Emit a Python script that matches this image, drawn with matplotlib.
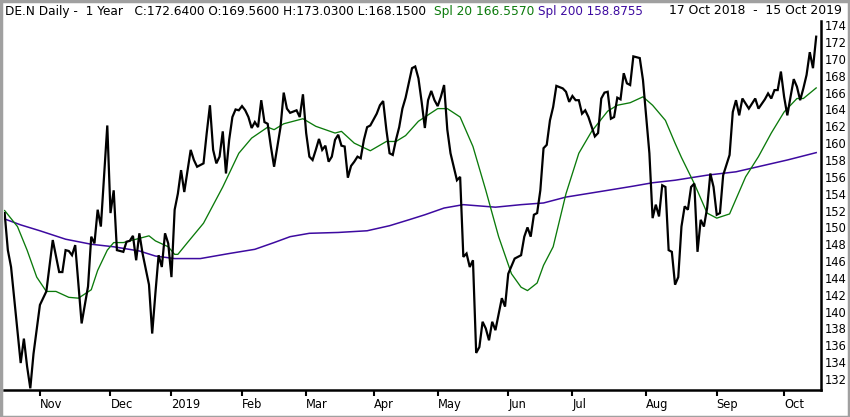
import matplotlib
matplotlib.use("Agg")
import matplotlib.pyplot as plt
import numpy as np
import pandas as pd
from matplotlib.patches import Rectangle

# ---------------- data ----------------
close_dates = [
    "2018-10-17", "2018-10-18", "2018-10-19", "2018-10-24", "2018-10-25", "2018-10-26", "2018-10-29", "2018-10-30",
    "2018-11-01", "2018-11-05", "2018-11-07", "2018-11-09", "2018-11-12", "2018-11-13", "2018-11-14", "2018-11-15",
    "2018-11-16", "2018-11-20", "2018-11-22", "2018-11-23", "2018-11-26", "2018-11-27", "2018-11-28", "2018-11-30",
    "2018-12-03", "2018-12-04", "2018-12-05", "2018-12-07", "2018-12-10", "2018-12-11", "2018-12-12", "2018-12-13",
    "2018-12-14", "2018-12-17", "2018-12-19", "2018-12-20", "2018-12-21", "2018-12-24", "2018-12-27", "2018-12-28",
    "2018-12-31", "2019-01-02", "2019-01-03", "2019-01-04", "2019-01-07", "2019-01-08", "2019-01-10", "2019-01-11",
    "2019-01-14", "2019-01-16", "2019-01-17", "2019-01-18", "2019-01-21", "2019-01-22", "2019-01-23", "2019-01-24",
    "2019-01-25", "2019-01-28", "2019-01-29", "2019-01-30", "2019-01-31", "2019-02-01", "2019-02-04", "2019-02-05",
    "2019-02-06", "2019-02-07", "2019-02-08", "2019-02-11", "2019-02-12", "2019-02-13", "2019-02-14", "2019-02-15",
    "2019-02-19", "2019-02-20", "2019-02-21", "2019-02-22", "2019-02-26", "2019-02-27", "2019-02-28", "2019-03-01",
    "2019-03-04", "2019-03-05", "2019-03-06", "2019-03-07", "2019-03-08", "2019-03-11", "2019-03-12", "2019-03-13",
    "2019-03-14", "2019-03-15", "2019-03-18", "2019-03-19", "2019-03-20", "2019-03-21", "2019-03-22", "2019-03-25",
    "2019-03-26", "2019-03-27", "2019-03-28", "2019-03-29", "2019-04-02", "2019-04-03", "2019-04-04", "2019-04-05",
    "2019-04-08", "2019-04-09", "2019-04-10", "2019-04-11", "2019-04-12", "2019-04-15", "2019-04-17", "2019-04-18",
    "2019-04-23", "2019-04-24", "2019-04-25", "2019-04-26", "2019-04-29", "2019-04-30", "2019-05-02", "2019-05-03",
    "2019-05-06", "2019-05-07", "2019-05-08", "2019-05-09", "2019-05-10", "2019-05-13", "2019-05-14", "2019-05-15",
    "2019-05-16", "2019-05-17", "2019-05-20", "2019-05-21", "2019-05-22", "2019-05-23", "2019-05-24", "2019-05-27",
    "2019-05-28", "2019-05-30", "2019-05-31", "2019-06-03", "2019-06-05", "2019-06-07", "2019-06-10", "2019-06-11",
    "2019-06-12", "2019-06-13", "2019-06-14", "2019-06-17", "2019-06-18", "2019-06-19", "2019-06-20", "2019-06-21",
    "2019-06-24", "2019-06-26", "2019-06-27", "2019-06-28", "2019-07-01", "2019-07-02", "2019-07-03", "2019-07-04",
    "2019-07-05", "2019-07-08", "2019-07-10", "2019-07-11", "2019-07-12", "2019-07-15", "2019-07-16", "2019-07-17",
    "2019-07-18", "2019-07-19", "2019-07-22", "2019-07-23", "2019-07-24", "2019-07-25", "2019-07-26", "2019-07-30",
    "2019-07-31", "2019-08-01", "2019-08-02", "2019-08-05", "2019-08-06", "2019-08-07", "2019-08-08", "2019-08-09",
    "2019-08-12", "2019-08-13", "2019-08-14", "2019-08-15", "2019-08-16", "2019-08-19", "2019-08-20", "2019-08-21",
    "2019-08-22", "2019-08-23", "2019-08-26", "2019-08-27", "2019-08-28", "2019-08-29", "2019-08-30", "2019-09-02",
    "2019-09-03", "2019-09-04", "2019-09-05", "2019-09-06", "2019-09-09", "2019-09-10", "2019-09-11", "2019-09-12",
    "2019-09-16", "2019-09-18", "2019-09-19", "2019-09-23", "2019-09-24", "2019-09-25", "2019-09-26", "2019-09-27",
    "2019-09-30", "2019-10-01", "2019-10-02", "2019-10-03", "2019-10-04", "2019-10-07", "2019-10-08", "2019-10-09",
    "2019-10-10", "2019-10-11", "2019-10-14", "2019-10-15",
]
close_values = [
    151.7, 147.3, 145.3, 133.9, 136.8, 133.5, 130.9, 135.0,
    140.8, 142.4, 148.5, 144.7, 144.7, 147.3, 147.2, 146.7,
    147.9, 138.6, 143.0, 148.9, 148.1, 152.1, 150.1, 162.1,
    151.7, 154.4, 147.3, 147.1, 148.3, 148.4, 149.0, 146.1,
    149.3, 146.9, 143.2, 137.4, 142.2, 146.7, 145.3, 149.3,
    148.1, 144.1, 152.1, 154.0, 156.8, 154.2, 159.2, 158.0,
    157.2, 157.6, 161.2, 164.5, 159.2, 157.6, 158.4, 161.4,
    156.4, 160.4, 163.1, 164.0, 163.9, 164.4, 163.9, 163.1,
    161.8, 162.5, 161.9, 165.1, 162.5, 162.3, 159.6, 157.2,
    161.9, 166.0, 164.1, 163.6, 163.9, 163.1, 165.8, 161.2,
    158.4, 158.0, 159.2, 160.5, 159.2, 159.7, 157.8, 158.4,
    160.4, 161.0, 159.7, 159.6, 155.9, 157.3, 157.8, 158.4,
    158.2, 160.4, 161.9, 162.1, 163.5, 164.5, 165.0, 161.6,
    158.8, 158.6, 160.4, 161.9, 164.1, 165.4, 168.9, 169.1,
    167.7, 164.9, 161.8, 165.1, 166.2, 165.1, 164.4, 165.5,
    166.9, 161.6, 158.8, 157.2, 155.6, 156.0, 146.5, 146.9,
    145.3, 146.1, 135.1, 135.8, 138.8, 138.0, 136.6, 138.8,
    137.8, 141.6, 140.6, 144.5, 146.3, 146.7, 148.9, 150.0,
    148.9, 151.5, 151.7, 154.4, 159.4, 159.8, 162.7, 164.3,
    166.8, 166.5, 166.1, 164.9, 165.6, 165.1, 165.1, 163.5,
    163.9, 163.1, 160.8, 161.2, 165.3, 166.0, 166.1, 162.9,
    163.1, 165.4, 165.2, 168.3, 167.1, 166.9, 170.3, 170.1,
    167.5, 163.1, 158.8, 151.1, 152.7, 151.3, 155.0, 154.8,
    147.3, 147.1, 143.2, 144.1, 150.1, 152.5, 152.1, 154.8,
    155.2, 147.1, 150.9, 150.1, 152.3, 156.4, 154.8, 151.5,
    151.7, 156.2, 157.4, 158.6, 163.7, 165.1, 163.3, 165.3,
    164.1, 165.3, 164.1, 165.2, 165.9, 165.3, 166.3, 166.3,
    168.5, 165.5, 163.3, 165.5, 167.6, 166.7, 165.1, 166.5,
    168.1, 170.8, 168.9, 172.64,
]

spl20_dates = [
    "2018-10-17", "2018-10-23", "2018-10-26", "2018-10-31", "2018-11-05", "2018-11-08", "2018-11-14", "2018-11-19",
    "2018-11-23", "2018-11-27", "2018-11-30", "2018-12-04", "2018-12-07", "2018-12-12", "2018-12-14", "2018-12-19",
    "2018-12-21", "2018-12-31", "2019-01-03", "2019-01-04", "2019-01-09", "2019-01-16", "2019-01-24", "2019-01-31",
    "2019-02-06", "2019-02-13", "2019-02-15", "2019-02-20", "2019-02-28", "2019-03-06", "2019-03-14", "2019-03-18",
    "2019-03-22", "2019-03-29", "2019-04-05", "2019-04-10", "2019-04-15", "2019-04-23", "2019-05-02", "2019-05-07",
    "2019-05-13", "2019-05-17", "2019-05-23", "2019-05-29", "2019-06-04", "2019-06-07", "2019-06-11", "2019-06-14",
    "2019-06-18", "2019-06-21", "2019-06-27", "2019-07-03", "2019-07-09", "2019-07-16", "2019-07-19", "2019-07-25",
    "2019-07-31", "2019-08-05", "2019-08-09", "2019-08-14", "2019-08-16", "2019-08-22", "2019-08-28", "2019-09-02",
    "2019-09-06", "2019-09-13", "2019-09-19", "2019-09-25", "2019-10-01", "2019-10-07", "2019-10-09", "2019-10-15",
]
spl20_values = [
    152.0, 150.1, 147.3, 144.1, 142.4, 142.4, 141.7, 141.6,
    142.6, 144.9, 147.3, 148.2, 148.2, 148.5, 148.7, 149.0,
    148.4, 147.7, 146.8, 146.8, 148.2, 150.5, 154.8, 158.8,
    160.6, 161.9, 161.6, 162.3, 162.9, 162.0, 161.2, 161.4,
    160.0, 159.1, 160.2, 160.2, 160.9, 162.6, 164.1, 164.1,
    163.1, 159.6, 154.4, 148.9, 144.5, 142.9, 142.5, 143.4,
    145.5, 147.7, 154.0, 158.8, 161.4, 163.8, 164.5, 164.8,
    165.5, 164.5, 162.7, 160.0, 158.3, 155.2, 151.7, 151.1,
    151.6, 156.0, 158.4, 161.2, 163.7, 165.3, 165.3, 166.557,
]

spl200_dates = [
    "2018-10-17", "2018-10-24", "2018-11-01", "2018-11-13", "2018-11-23", "2018-12-04", "2018-12-14", "2018-12-21",
    "2019-01-03", "2019-01-15", "2019-01-28", "2019-02-07", "2019-02-15", "2019-02-22", "2019-03-04", "2019-03-15",
    "2019-03-28", "2019-04-08", "2019-04-16", "2019-04-25", "2019-05-06", "2019-05-14", "2019-05-28", "2019-06-07",
    "2019-06-18", "2019-06-27", "2019-07-16", "2019-07-26", "2019-08-05", "2019-08-14", "2019-08-28", "2019-09-10",
    "2019-09-20", "2019-10-02", "2019-10-15",
]
spl200_values = [
    151.0, 150.3, 149.6, 148.6, 148.0, 147.7, 147.2, 146.6,
    146.3, 146.3, 146.9, 147.4, 148.2, 148.9, 149.3, 149.4,
    149.6, 150.2, 150.9, 151.5, 152.3, 152.7, 152.4, 152.7,
    152.9, 153.6, 154.4, 154.9, 155.3, 155.6, 156.2, 156.6,
    157.3, 158.0, 158.8755,
]

y_ticks = list(range(132, 175, 2))
header_main = "DE.N Daily -  1 Year   C:172.6400 O:169.5600 H:173.0300 L:168.1500"
header_spl20 = "Spl 20 166.5570"
header_spl200 = "Spl 200 158.8755"
header_range = "17 Oct 2018  -  15 Oct 2019"

# ---------------- trading calendar (x axis = trading sessions) ----------------
holidays = pd.to_datetime(["2018-12-25", "2018-12-26", "2019-01-01",
                           "2019-04-19", "2019-04-22", "2019-05-01"])
sessions = pd.bdate_range("2018-10-17", "2019-10-15")
sessions = sessions[~sessions.isin(holidays)]
session_pos = pd.Series(np.arange(len(sessions)), index=sessions)


def to_pos(dates):
    return session_pos.loc[pd.to_datetime(dates)].values


# month ticks: first session of each month (after the start month)
s = pd.Series(sessions, index=sessions)
firsts = s.groupby(sessions.to_period("M")).first().iloc[1:]
tick_pos = to_pos(firsts.values)
tick_lab = [("%d" % d.year) if d.month == 1 else d.strftime("%b") for d in firsts]

# ---------------- figure ----------------
W, H = 850, 417
fig = plt.figure(figsize=(W / 100, H / 100), dpi=100)
fig.patch.set_facecolor("white")

ax = fig.add_axes([4 / W, 27 / H, 817 / W, 369 / H])
ax.plot(to_pos(spl200_dates), spl200_values, color="#3d0aa0", lw=1.1, zorder=2)
ax.plot(to_pos(spl20_dates), spl20_values, color="#0b7a0b", lw=0.95, zorder=3)
ax.plot(to_pos(close_dates), close_values, color="black", lw=1.6, zorder=4,
        solid_joinstyle="miter")

ax.set_xlim(-0.2, len(sessions) - 1 + 1.5)
ax.set_ylim(130.7, 174.5)

for side in ("top", "left"):
    ax.spines[side].set_visible(False)
for side in ("right", "bottom"):
    ax.spines[side].set_linewidth(1.8)
    ax.spines[side].set_color("black")

ax.yaxis.tick_right()
ax.set_yticks(y_ticks)
ax.set_yticklabels([str(v) for v in y_ticks])
ax.tick_params(axis="y", length=0, pad=3, labelsize=8.3, labelcolor="black")

ax.set_xticks(tick_pos)
ax.set_xticklabels(tick_lab)
ax.tick_params(axis="x", direction="out", length=4, width=1.5, pad=2,
               labelsize=8.3, labelcolor="black")
for lbl in ax.get_xticklabels():
    lbl.set_horizontalalignment("left")

# ---------------- header ----------------
fig.canvas.draw()
renderer = fig.canvas.get_renderer()


def fitted_text(x_left, x_right, text, color, ha="left"):
    t = fig.text(x_left / W if ha == "left" else x_right / W, (H - 11) / H, text,
                 color=color, fontsize=10, ha=ha, va="center")
    w = t.get_window_extent(renderer).width
    t.set_fontsize(10 * (x_right - x_left) / w)
    return t


fitted_text(5, 428, header_main, "black")
fitted_text(434, 534, header_spl20, "#0b7a0b")
fitted_text(538, 643, header_spl200, "#3d0aa0")
fitted_text(669, 842, header_range, "black", ha="right")

# outer grey frame
fig.patches.append(Rectangle((0.5 / W, 0.5 / H), 1 - 1.5 / W, 1 - 1.5 / H,
                             transform=fig.transFigure, fill=False,
                             edgecolor="#a0a0a0", lw=2.5))

fig.savefig("out.png", dpi=100, facecolor="white")
